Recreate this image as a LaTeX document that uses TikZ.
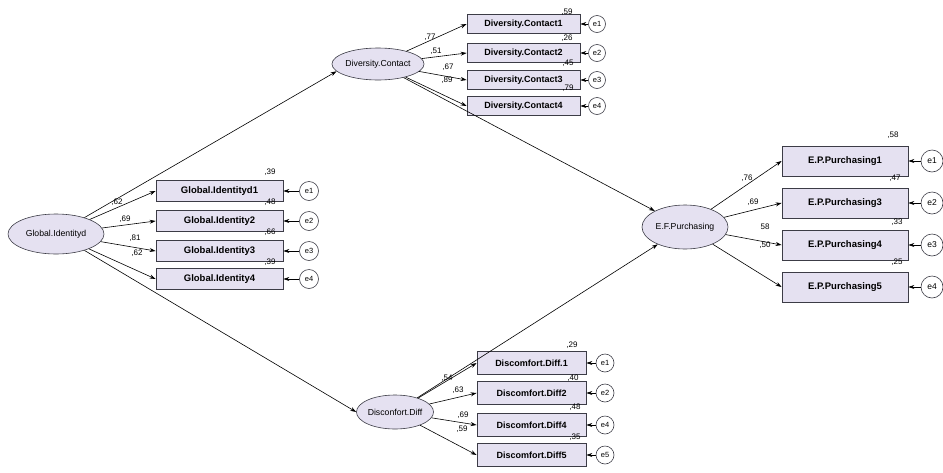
\documentclass[tikz,border=0pt]{standalone}
\usepackage{fontspec}
\setmainfont{Liberation Sans}
\usetikzlibrary{shapes.geometric,arrows.meta}
\definecolor{lavanda}{RGB}{229,225,241}
\definecolor{bordo}{RGB}{60,60,70}

\begin{document}
\begin{tikzpicture}[x=1pt, y=-1pt,
    latente/.style={ellipse, draw=bordo, line width=0.6pt, fill=lavanda, inner sep=0pt, font=\fontsize{8.7}{10}\selectfont},
    indicatore/.style={rectangle, draw=bordo, line width=0.8pt, fill=lavanda, inner sep=0pt, font=\bfseries\fontsize{9}{10}\selectfont},
    errore/.style={circle, draw=bordo, line width=0.6pt, fill=white, inner sep=0pt, font=\fontsize{7.5}{8}\selectfont},
    num/.style={inner sep=0pt, font=\fontsize{8}{9}\selectfont},
    freccia/.style={-{Stealth[length=6pt,width=4pt]}, line width=0.6pt}]
    \useasboundingbox (0,0) rectangle (943,472);
    \fill[white] (0,0) rectangle (943,472);

    % Variabili latenti
    \node[latente, minimum width=96pt, minimum height=40pt] (GI) at (56,234) {Global.Identityd};
    \node[latente, minimum width=74pt, minimum height=32pt] (DC) at (378,64) {Diversity.Contact};
    \node[latente, minimum width=74pt, minimum height=34pt] (DD) at (395,412) {Disconfort.Diff};
    \node[latente, minimum width=86pt, minimum height=44pt] (EP) at (685,227) {E.F.Purchasing};

    % Indicatori Global.Identity
    \foreach \nome/\y/\e [count=\i] in {Global.Identityd1/191/e1, Global.Identity2/221/e2, Global.Identity3/251/e3, Global.Identity4/279/e4} {
        \node[indicatore, minimum width=127pt, minimum height=21pt, font=\bfseries\fontsize{9.5}{10}\selectfont] (GI\i) at (219.5,\y) {\nome};
        \node[errore, minimum size=19pt] (eGI\i) at (309,\y) {\e};
        \draw[freccia] (GI) -- (GI\i.west);
        \draw[freccia] (eGI\i) -- (GI\i.east);
    }

    % Indicatori Diversity.Contact
    \foreach \nome/\y/\e [count=\i] in {Diversity.Contact1/24/e1, Diversity.Contact2/53/e2, Diversity.Contact3/80/e3, Diversity.Contact4/106/e4} {
        \node[indicatore, minimum width=113pt, minimum height=19pt] (DC\i) at (523.5,\y) {\nome};
        \node[errore, minimum size=17pt] (eDC\i) at (597,\y) {\e};
        \draw[freccia] (DC) -- (DC\i.west);
        \draw[freccia] (eDC\i) -- (DC\i.east);
    }

    % Indicatori Disconfort.Diff
    \foreach \nome/\y/\e [count=\i] in {Discomfort.Diff.1/363/e1, Discomfort.Diff2/393/e2, Discomfort.Diff4/425/e4, Discomfort.Diff5/455/e5} {
        \node[indicatore, minimum width=109pt, minimum height=23pt] (DD\i) at (531.5,\y) {\nome};
        \node[errore, minimum size=18pt] (eDD\i) at (605,\y) {\e};
        \draw[freccia] (DD) -- (DD\i.west);
        \draw[freccia] (eDD\i) -- (DD\i.east);
    }

    % Indicatori E.P.Purchasing
    \foreach \nome/\y/\e [count=\i] in {E.P.Purchasing1/161/e1, E.P.Purchasing3/203/e2, E.P.Purchasing4/245/e3, E.P.Purchasing5/287/e4} {
        \node[indicatore, minimum width=126pt, minimum height=30pt, font=\bfseries\fontsize{9.5}{10}\selectfont] (EP\i) at (845,\y) {\nome};
        \node[errore, minimum size=22pt, font=\fontsize{8.5}{9}\selectfont] (eEP\i) at (932,\y) {\e};
        \draw[freccia] (EP) -- (EP\i.west);
        \draw[freccia] (eEP\i) -- (EP\i.east);
    }

    % Percorsi strutturali
    \draw[freccia] (GI.30) -- (DC.190);
    \draw[freccia] (GI.-30) -- (DD.west);
    \draw[freccia] (DC) -- (EP);
    \draw[freccia] (DD) -- (EP);

    % Pesi fattoriali
    \foreach \t/\x/\y [count=\i] in {{,62}/117/202, {,69}/125/219, {,81}/135/238, {,62}/137/253,
        {,77}/430/37, {,51}/436/51, {,67}/448/67, {,89}/447/80,
        {,54}/447/378, {,63}/458/390, {,69}/463/415, {,59}/462/429,
        {,76}/747/178, {,69}/753/202, {58}/765/227, {,50}/765/245}
        \node[num] (w\i) at (\x,\y) {\t};

    % Varianza spiegata
    \foreach \t/\x/\y [count=\i] in {{,39}/270/172, {,48}/270/202, {,66}/270/232, {,39}/270/262,
        {,59}/567/12, {,26}/567/38, {,45}/568/63, {,79}/568/88,
        {,29}/572/345, {,40}/573/378, {,48}/575/407, {,35}/575/437,
        {,58}/893/135, {,47}/895/178, {,33}/897/222, {,25}/897/262}
        \node[num] (r\i) at (\x,\y) {\t};
\end{tikzpicture}
\end{document}
